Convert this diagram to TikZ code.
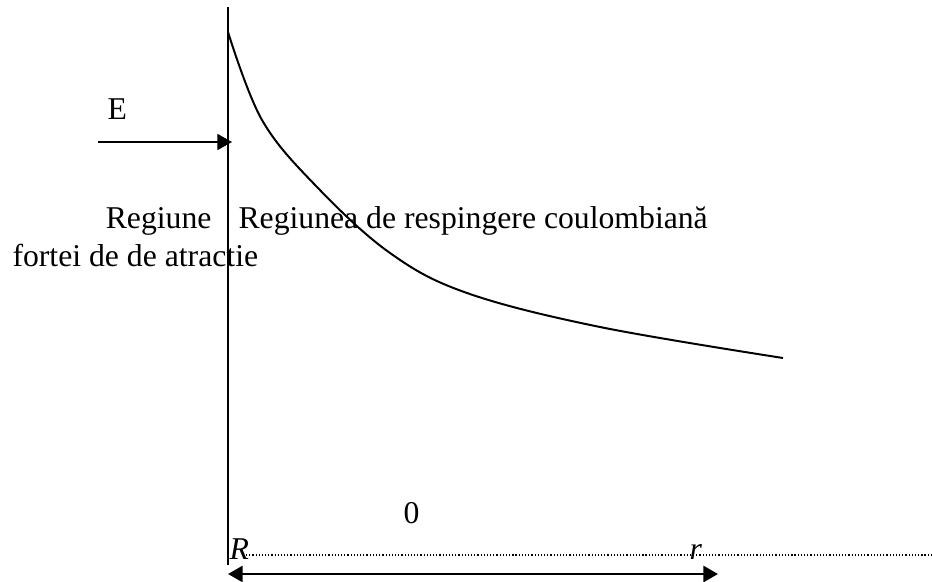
\documentclass[tikz,border=0pt]{standalone}
\usepackage{fontspec}
\setmainfont{Liberation Serif}
\usetikzlibrary{arrows.meta}

\begin{document}
\begin{tikzpicture}[
  x=0.3785pt, y=-0.3785pt,
  font=\fontsize{12}{14}\selectfont,
  txt/.style={inner sep=0pt, anchor=base west},
  txtr/.style={inner sep=0pt, anchor=base east},
  axisline/.style={line width=0.75pt},
  curveline/.style={line width=0.75pt},
  push/.style={-{Triangle[length=5.5pt, width=6pt]}, line width=0.75pt},
  span/.style={{Triangle[length=5.5pt, width=6pt]}-{Triangle[length=5.5pt, width=6pt]}, line width=1.1pt},
  dots/.style={line width=0.45pt, dash pattern=on 0.45pt off 0.75pt}
]
\useasboundingbox (0,0) rectangle (932,582);

% vertical axis
\coordinate (top) at (228,7);
\coordinate (bot) at (228,565);
\draw[axisline] (top) -- (bot);

% potential curve
\draw[curveline] plot[smooth, tension=0.6] coordinates {
  (228,32) (262,120) (317,187) (390,253)
  (467,293) (600,327) (783,358)};

% energy arrow
\node[txt] (elbl) at (107,120) {E};
\coordinate (ein)  at (98,142);
\coordinate (eout) at (232,142);
\draw[push] (ein) -- (eout);

% region labels
\node[txtr] (reg1) at (212,229) {Regiune};
\node[txt]  (reg2) at (12,266)  {fortei de de atractie};
\node[txt]  (rep)  at (238,229) {Regiunea de respingere coulombiană};

% bottom scale
\node[txt] (zero) at (403,523) {0};
\node[txt] (rlo)  at (229,559) {\textit{R}};
\node[txt] (rhi)  at (689,559) {\textit{r}};
\coordinate (dl) at (246,555);
\coordinate (dr) at (932,555);
\draw[dots] (dl) -- (dr);
\coordinate (sl) at (228,574);
\coordinate (sr) at (718,574);
\draw[span] (sl) -- (sr);

\end{tikzpicture}
\end{document}
